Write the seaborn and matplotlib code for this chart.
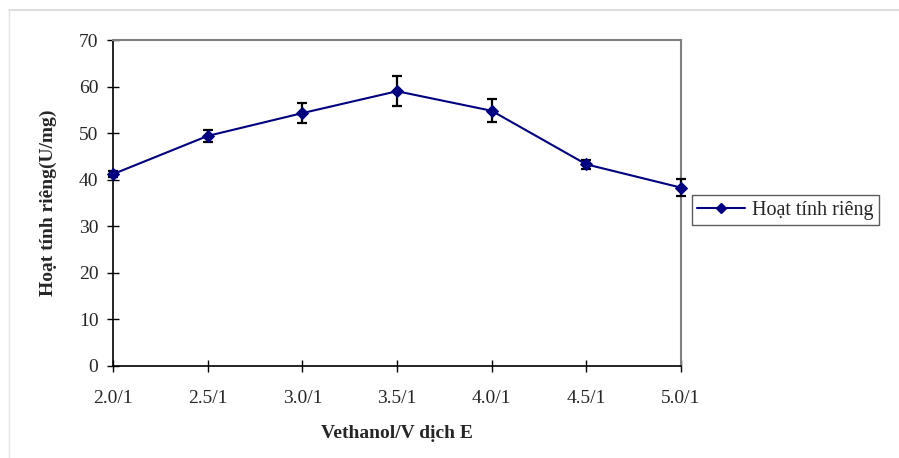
import matplotlib
matplotlib.use("Agg")
import matplotlib.pyplot as plt
import matplotlib.lines as mlines
import seaborn as sns
import pandas as pd

# Ratio of ethanol volume to enzyme extract volume
ratios = ["2.0/1", "2.5/1", "3.0/1", "3.5/1", "4.0/1", "4.5/1", "5.0/1"]
# Specific activity (U/mg) and its standard deviation
activity = [41.2, 49.4, 54.3, 59.0, 54.8, 43.3, 38.3]
errors = [0.6, 1.3, 2.1, 3.2, 2.5, 0.9, 1.9]

series_name = "Hoạt tính riêng"
navy = "#000080"

df = pd.DataFrame({"pos": range(len(ratios)), "ratio": ratios,
                   "value": activity, "err": errors})

sns.set_theme(style="white")
plt.rcParams["font.family"] = ["Liberation Serif", "DejaVu Serif"]

fig = plt.figure(figsize=(8.99, 4.58), dpi=100)
ax = fig.add_axes([113 / 899, 1 - 366 / 458, (681 - 113) / 899, (366 - 40) / 458])

eb = ax.errorbar(df["pos"], df["value"], yerr=df["err"], fmt="none",
                 ecolor="black", elinewidth=1.6, capsize=3.8, capthick=1.6,
                 zorder=4)
for art in eb.lines[1] + eb.lines[2]:
    art.set_clip_on(False)

sns.lineplot(data=df, x="pos", y="value", ax=ax, color=navy, linewidth=1.5,
             marker="D", markersize=6.5, markeredgecolor=navy, zorder=5,
             legend=False, clip_on=False)

ax.set_xlim(0, len(ratios) - 1)
ax.set_ylim(0, 70)
ax.set_yticks(range(0, 71, 10))
ax.set_xticks(df["pos"])
ax.set_xticklabels(ratios)

for side in ("left", "bottom"):
    ax.spines[side].set_color("black")
    ax.spines[side].set_linewidth(1.2)
for side in ("top", "right"):
    ax.spines[side].set_color("#808080")
    ax.spines[side].set_linewidth(1.5)

ax.tick_params(axis="y", direction="inout", length=9, width=1, color="black",
               labelsize=14, pad=6, left=True)
ax.tick_params(axis="x", direction="inout", length=8, width=1, color="black",
               labelsize=14, pad=13, bottom=True)

ax.set_xlabel("Vethanol/V dịch E", fontsize=14, fontweight="bold", labelpad=13)
ax.set_ylabel("Hoạt tính riêng(U/mg)", fontsize=14, fontweight="bold",
              labelpad=16)

handle = mlines.Line2D([], [], color=navy, linewidth=1.5, marker="D",
                       markersize=5.5, markeredgecolor=navy)
leg = fig.legend([handle], [series_name], loc="center left",
                 bbox_to_anchor=(692 / 899, 1 - 210 / 458), frameon=True,
                 fancybox=False, fontsize=14.5, handlelength=2.4,
                 borderpad=0.25, handletextpad=0.35, borderaxespad=0)
leg.get_frame().set_edgecolor("#333333")
leg.get_frame().set_linewidth(1.0)

# Light frame along the top and left edges of the chart area
fig.add_artist(mlines.Line2D([9 / 899, 1], [1 - 10 / 458, 1 - 10 / 458],
                             color="#d8d8d8", linewidth=1.2))
fig.add_artist(mlines.Line2D([9 / 899, 9 / 899], [0, 1 - 10 / 458],
                             color="#e4e4e4", linewidth=1.0))

fig.savefig("out.png", dpi=100, facecolor="white")
